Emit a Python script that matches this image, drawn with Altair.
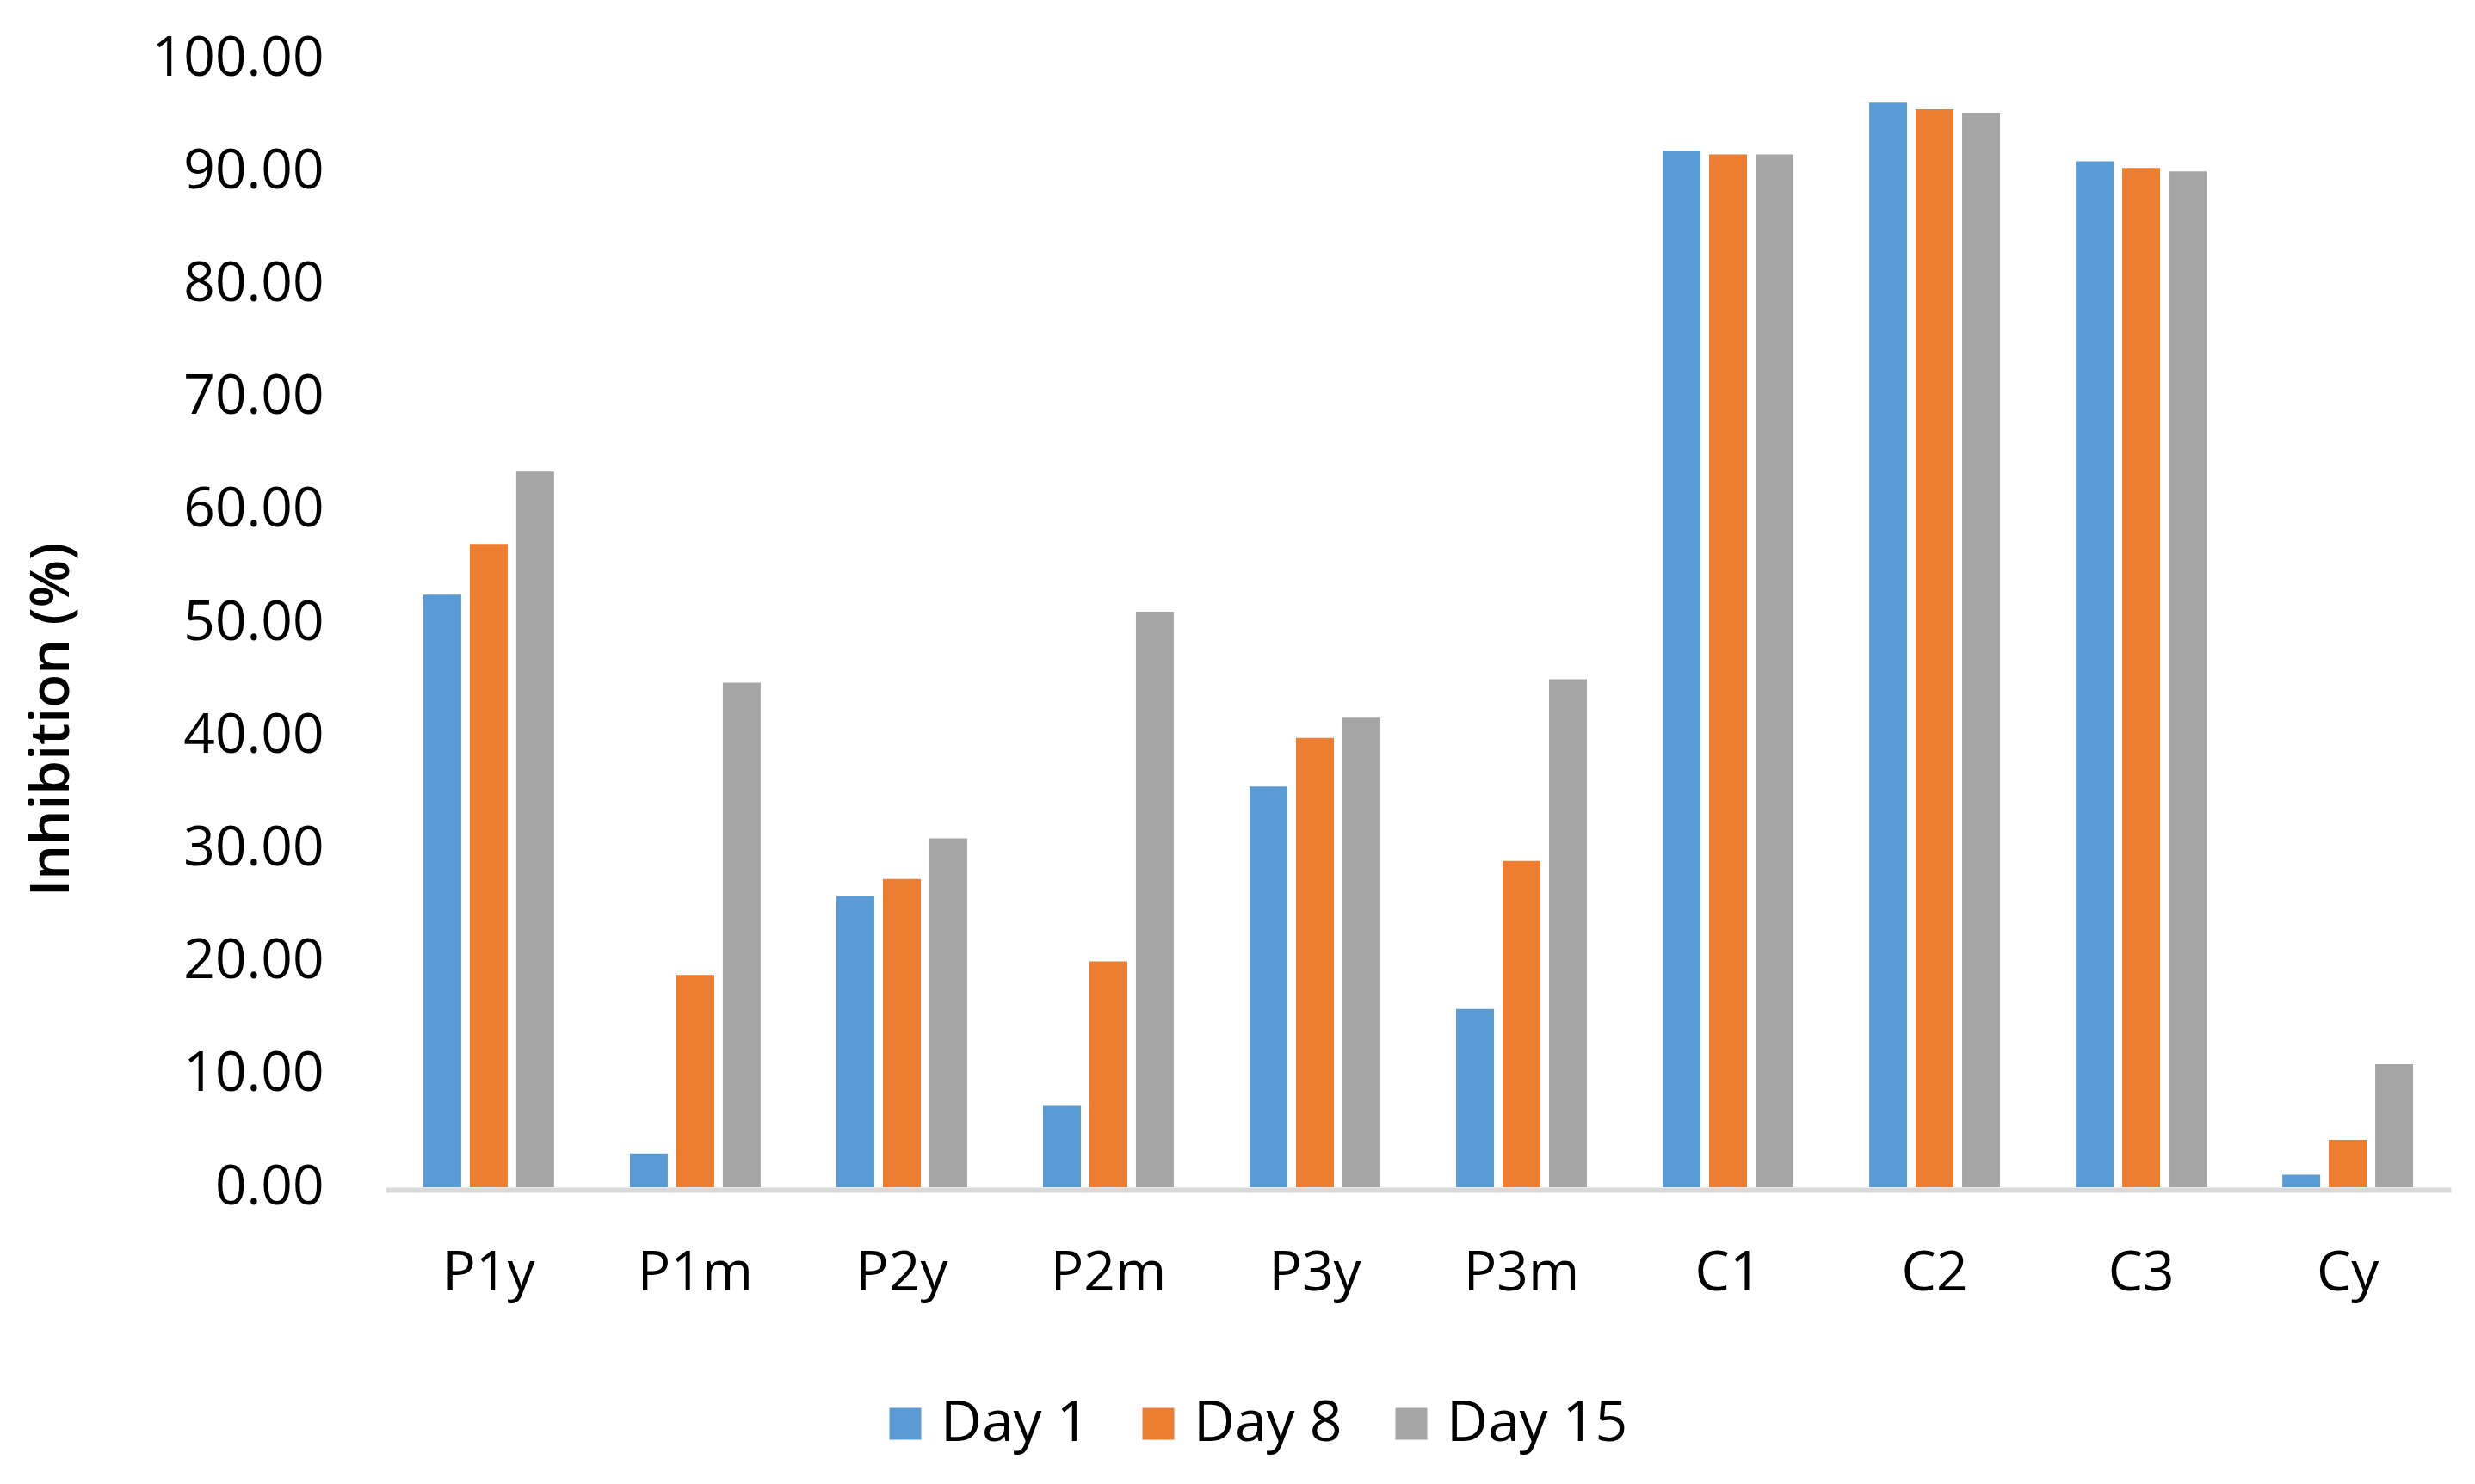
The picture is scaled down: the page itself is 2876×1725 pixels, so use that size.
import altair as alt
import pandas as pd

categories = ["P1y", "P1m", "P2y", "P2m", "P3y", "P3m", "C1", "C2", "C3", "Cy"]
series = ["Day 1", "Day 8", "Day 15"]
day1 = [52.5, 3.0, 25.8, 7.2, 35.5, 15.8, 91.8, 96.1, 90.9, 1.1]
day8 = [57.0, 18.8, 27.3, 20.0, 39.8, 28.9, 91.5, 95.5, 90.3, 4.2]
day15 = [63.4, 44.7, 30.9, 51.0, 41.6, 45.0, 91.5, 95.2, 90.0, 10.9]
colors = ["#5B9BD5", "#ED7D31", "#A5A5A5"]
y_ticks = [0, 10, 20, 30, 40, 50, 60, 70, 80, 90, 100]

rows = []
for s, vals in zip(series, [day1, day8, day15]):
    for c, v in zip(categories, vals):
        rows.append({"cat": c, "series": s, "value": v})
df = pd.DataFrame(rows)

FONT = "Open Sans"
FS = 64

chart = alt.Chart(df).mark_bar().encode(
    x=alt.X(
        "cat:N", sort=categories, title=None,
        scale=alt.Scale(paddingInner=0.367, paddingOuter=0.183),
        axis=alt.Axis(labelAngle=0, labelFontSize=FS, labelFont=FONT, labelColor="#000000",
                      labelPadding=97, labelBaseline="middle", ticks=False, offset=3,
                      labelLimit=0,
                      domainColor="#D9D9D9", domainWidth=6, grid=False),
    ),
    xOffset=alt.XOffset("series:N", sort=series,
                        scale=alt.Scale(paddingInner=0.185, paddingOuter=0)),
    y=alt.Y(
        "value:Q", scale=alt.Scale(domain=[0, 100], nice=False),
        axis=alt.Axis(values=y_ticks, format=".2f", labelFontSize=FS, labelFont=FONT,
                      labelColor="#000000", labelPadding=72, ticks=False, domain=False, grid=False,
                      labelLimit=0,
                      title="Inhibition (%)", titleFont=FONT, titleFontSize=FS, titleFontWeight=600,
                      titleColor="#000000", titleAngle=270, titleX=-388, titleY=768,
                      titleAlign="center", titleBaseline="middle", titleLimit=0),
    ),
    color=alt.Color(
        "series:N", sort=series, scale=alt.Scale(domain=series, range=colors),
        legend=alt.Legend(title=None, orient="none", direction="horizontal", legendX=571, legendY=1554,
                          symbolType="square", symbolSize=1369, symbolStrokeWidth=0,
                          labelFontSize=66, labelFont=FONT, labelColor="#000000", labelLimit=0,
                          columnPadding=47, labelOffset=8),
    ),
).properties(
    width=2400, height=1312,
    autosize=alt.AutoSizeParams(type="none"),
    padding={"left": 440, "top": 60, "right": 10, "bottom": 330},
).configure_view(stroke=None)

chart.save("out.html", embed_options={"renderer": "svg", "actions": False})
